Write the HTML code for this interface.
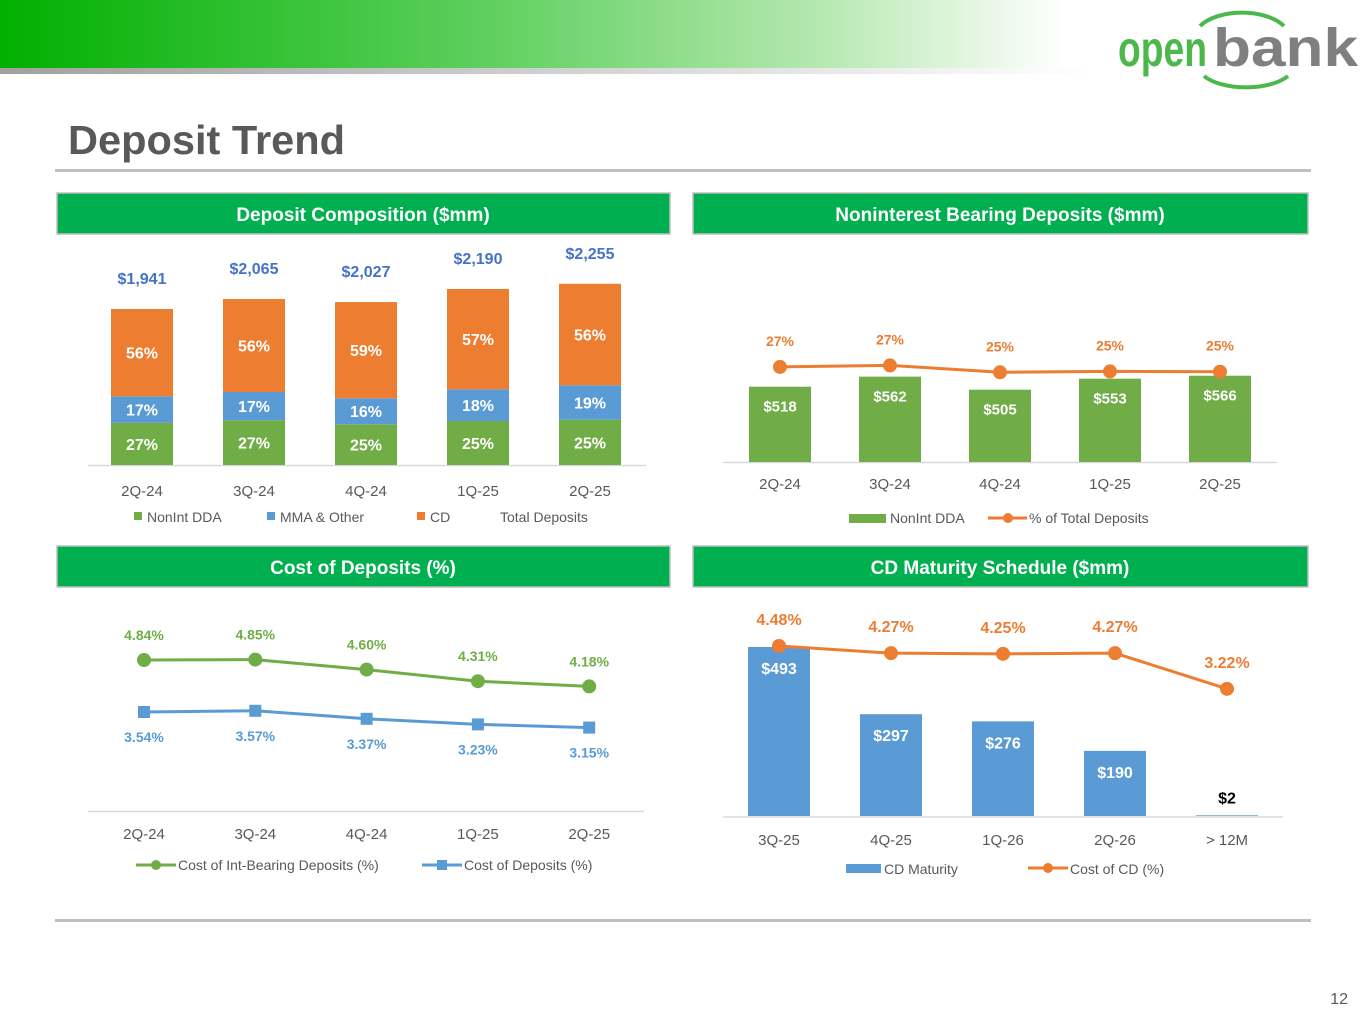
<!DOCTYPE html>
<html><head><meta charset="utf-8"><style>
html,body{margin:0;padding:0;background:#fff;}
body{width:1365px;height:1024px;overflow:hidden;position:relative;font-family:"Liberation Sans",sans-serif;}
svg text{font-family:"Liberation Sans",sans-serif;}
</style></head><body>
<svg id="page" width="1365" height="1024" viewBox="0 0 1365 1024" xmlns="http://www.w3.org/2000/svg">
<defs>
<linearGradient id="hg" x1="0" x2="1" y1="0" y2="0">
<stop offset="0" stop-color="#00b000"/><stop offset="0.35" stop-color="#5ccf5c"/><stop offset="0.6" stop-color="#b5e8b0"/><stop offset="0.78" stop-color="#ffffff"/><stop offset="1" stop-color="#ffffff"/>
</linearGradient>
<linearGradient id="gg" x1="0" x2="1" y1="0" y2="0">
<stop offset="0" stop-color="#a0a0a0"/><stop offset="0.8" stop-color="#ffffff"/></linearGradient>
</defs>
<rect x="0" y="0" width="1365" height="68" fill="url(#hg)"/>
<rect x="0" y="68" width="1365" height="6" fill="url(#gg)"/>
<g>
<path d="M1200 26 A48 26 0 0 1 1284 26" fill="none" stroke="#4cb84c" stroke-width="4"/>
<path d="M1204 76 A48 22 0 0 0 1288 76" fill="none" stroke="#4cb84c" stroke-width="4"/>
<text x="1118" y="66" font-size="50" font-weight="bold" fill="#4cb84c" textLength="89" lengthAdjust="spacingAndGlyphs">open</text>
<text x="1213" y="66" font-size="54" font-weight="bold" fill="#7f7f7f" textLength="145" lengthAdjust="spacingAndGlyphs">bank</text>
</g>
<text x="68" y="154" font-size="41" font-weight="bold" fill="#595959" textLength="277" lengthAdjust="spacingAndGlyphs">Deposit Trend</text>
<rect x="55" y="169" width="1256" height="3" fill="#bfbfbf"/>
<rect x="55" y="919" width="1256" height="3" fill="#bfbfbf"/>
<text x="1348" y="1004" font-size="16" fill="#595959" text-anchor="end">12</text>

<g><rect x="57" y="193" width="613" height="41" fill="#00b050" stroke="#bfbfbf" stroke-width="1.5"/><text x="363" y="221" font-size="19" font-weight="bold" fill="#fff" text-anchor="middle">Deposit Composition ($mm)</text></g>
<g><rect x="693" y="193" width="615" height="41" fill="#00b050" stroke="#bfbfbf" stroke-width="1.5"/><text x="1000" y="221" font-size="19" font-weight="bold" fill="#fff" text-anchor="middle">Noninterest Bearing Deposits ($mm)</text></g>
<g><rect x="57" y="546" width="613" height="41" fill="#00b050" stroke="#bfbfbf" stroke-width="1.5"/><text x="363" y="574" font-size="19" font-weight="bold" fill="#fff" text-anchor="middle">Cost of Deposits (%)</text></g>
<g><rect x="693" y="546" width="615" height="41" fill="#00b050" stroke="#bfbfbf" stroke-width="1.5"/><text x="1000" y="574" font-size="19" font-weight="bold" fill="#fff" text-anchor="middle">CD Maturity Schedule ($mm)</text></g>

<g id="c1"></g>
<g id="c2"></g>
<g id="c3"></g>
<g id="c4"></g>
</svg>
<script>
const quarters1 = ["2Q-24","3Q-24","4Q-24","1Q-25","2Q-25"];
const totalDeposits = [1941,2065,2027,2190,2255];
const nonintPct = [27,27,25,25,25];
const mmaPct = [17,17,16,18,19];
const cdPct = [56,56,59,57,56];
const nonintDDA = [518,562,505,553,566];
const nonintShare = [26.7,27.2,24.9,25.2,25.1];
const nonintShareLabels = ["27%","27%","25%","25%","25%"];
const costIntBearing = [4.84,4.85,4.60,4.31,4.18];
const costDeposits = [3.54,3.57,3.37,3.23,3.15];
const cdBuckets = ["3Q-25","4Q-25","1Q-26","2Q-26","> 12M"];
const cdMaturity = [493,297,276,190,2];
const cdCost = [4.48,4.27,4.25,4.27,3.22];

const NS="http://www.w3.org/2000/svg";
function mk(parent,tag,attrs,txt){const e=document.createElementNS(NS,tag);for(const k in attrs)e.setAttribute(k,attrs[k]);if(txt!==undefined)e.textContent=txt;parent.appendChild(e);return e;}
const GREEN="#70ad47",BLUE="#5b9bd5",ORANGE="#ed7d31",AX="#595959";

// Chart 1
(function(){
const g=document.getElementById('c1');
const x=i=>142+i*112, base=465, k=156/1941, y=v=>base-v*k;
mk(g,'line',{x1:88,x2:646,y1:base+0.5,y2:base+0.5,stroke:'#d9d9d9','stroke-width':1.5});
quarters1.forEach((q,i)=>{
  const tot=totalDeposits[i]; let cum=0;
  const segs=[[nonintPct[i],GREEN,'bar-nonint-'+q],[mmaPct[i],BLUE,'bar-mma-'+q],[cdPct[i],ORANGE,'bar-cd-'+q]];
  segs.forEach(s=>{
    const h=tot*s[0]/100*k, yt=y(tot*(cum+s[0])/100);
    const r=mk(g,'rect',{x:x(i)-31,y:yt,width:62,height:h,fill:s[1]});
    
    
    const t=mk(g,'text',{x:x(i),y:yt+h/2+6,'font-size':16,'font-weight':'bold',fill:'#fff','text-anchor':'middle'},s[0]+'%');
    
    
    cum+=s[0];
  });
  const tl=mk(g,'text',{x:x(i),y:y(tot)-25,'font-size':16,'font-weight':'bold',fill:'#4472c4','text-anchor':'middle'},'$'+tot.toLocaleString('en-US'));
  
  
  const xl=mk(g,'text',{x:x(i),y:496,'font-size':15,fill:AX,'text-anchor':'middle'},q);
  
  
});
const leg=[[134,GREEN,'NonInt DDA'],[267,BLUE,'MMA & Other'],[417,ORANGE,'CD'],[490,null,'Total Deposits']];
leg.forEach(l=>{
  if(l[1]) mk(g,'rect',{x:l[0],y:512,width:8,height:8,fill:l[1]});
  const t=mk(g,'text',{x:l[0]+(l[1]?13:10),y:522,'font-size':14,fill:AX},l[2]);
  
  
});
})();

// Chart 2
(function(){
const g=document.getElementById('c2');
const x=i=>780+i*110, base=462, y=v=>base-(v-190)*0.2295, yl=v=>366+(27-v)*3;
mk(g,'line',{x1:723,x2:1277,y1:base+0.5,y2:base+0.5,stroke:'#d9d9d9','stroke-width':1.5});
quarters1.forEach((q,i)=>{
  const r=mk(g,'rect',{x:x(i)-31,y:y(nonintDDA[i]),width:62,height:base-y(nonintDDA[i]),fill:GREEN});
  
  
  const t=mk(g,'text',{x:x(i),y:y(nonintDDA[i])+25,'font-size':15,'font-weight':'bold',fill:'#fff','text-anchor':'middle'},'$'+nonintDDA[i]);
  
  
  const xl=mk(g,'text',{x:x(i),y:489,'font-size':15,fill:AX,'text-anchor':'middle'},q);
  
  
});
const pts=nonintShare.map((v,i)=>x(i)+','+yl(v)).join(' ');
const pl=mk(g,'polyline',{points:pts,fill:'none',stroke:ORANGE,'stroke-width':3});


nonintShare.forEach((v,i)=>{
  const c=mk(g,'circle',{cx:x(i),cy:yl(v),r:7,fill:ORANGE});
  
  
  const t=mk(g,'text',{x:x(i),y:yl(v)-21,'font-size':14,'font-weight':'bold',fill:ORANGE,'text-anchor':'middle'},nonintShareLabels[i]);
  
  
});
mk(g,'rect',{x:849,y:514,width:37,height:9,fill:GREEN});
const l1=mk(g,'text',{x:890,y:523,'font-size':14,fill:AX},'NonInt DDA');


mk(g,'line',{x1:988,x2:1027,y1:518,y2:518,stroke:ORANGE,'stroke-width':3});
mk(g,'circle',{cx:1008,cy:518,r:5,fill:ORANGE});
const l2=mk(g,'text',{x:1029,y:523,'font-size':14,fill:AX},'% of Total Deposits');


})();

// Chart 3
(function(){
const g=document.getElementById('c3');
const x=i=>144+i*111.3, y=v=>660+(4.84-v)*40;
mk(g,'line',{x1:88,x2:644,y1:811.5,y2:811.5,stroke:'#d9d9d9','stroke-width':1.5});
quarters1.forEach((q,i)=>{
  const xl=mk(g,'text',{x:x(i),y:839,'font-size':15,fill:AX,'text-anchor':'middle'},q);
  
  
});
const a=mk(g,'polyline',{points:costIntBearing.map((v,i)=>x(i)+','+y(v)).join(' '),fill:'none',stroke:GREEN,'stroke-width':3});


const b=mk(g,'polyline',{points:costDeposits.map((v,i)=>x(i)+','+y(v)).join(' '),fill:'none',stroke:BLUE,'stroke-width':3});


costIntBearing.forEach((v,i)=>{
  const c=mk(g,'circle',{cx:x(i),cy:y(v),r:7,fill:GREEN});
  
  
  const t=mk(g,'text',{x:x(i),y:y(v)-20,'font-size':14,'font-weight':'bold',fill:GREEN,'text-anchor':'middle'},v.toFixed(2)+'%');
  
  
});
costDeposits.forEach((v,i)=>{
  const c=mk(g,'rect',{x:x(i)-6,y:y(v)-6,width:12,height:12,fill:BLUE});
  
  
  const t=mk(g,'text',{x:x(i),y:y(v)+30,'font-size':14,'font-weight':'bold',fill:BLUE,'text-anchor':'middle'},v.toFixed(2)+'%');
  
  
});
mk(g,'line',{x1:136,x2:176,y1:865,y2:865,stroke:GREEN,'stroke-width':3});
mk(g,'circle',{cx:156,cy:865,r:5,fill:GREEN});
const l1=mk(g,'text',{x:178,y:870,'font-size':14,fill:AX},'Cost of Int-Bearing Deposits (%)');


mk(g,'line',{x1:422,x2:462,y1:865,y2:865,stroke:BLUE,'stroke-width':3});
mk(g,'rect',{x:437,y:860,width:10,height:10,fill:BLUE});
const l2=mk(g,'text',{x:464,y:870,'font-size':14,fill:AX},'Cost of Deposits (%)');


})();

// Chart 4
(function(){
const g=document.getElementById('c4');
const x=i=>779+i*112, base=816, y=v=>base-v*0.3428, yl=v=>646+(4.48-v)*34;
mk(g,'line',{x1:723,x2:1283,y1:base+1,y2:base+1,stroke:'#d9d9d9','stroke-width':1.5});
cdBuckets.forEach((q,i)=>{
  const v=cdMaturity[i];
  const r=mk(g,'rect',{x:x(i)-31,y:y(v),width:62,height:base-y(v),fill:BLUE});
  
  
  const small=v<30;
  const t=mk(g,'text',{x:x(i),y:small?y(v)-12:y(v)+27,'font-size':16,'font-weight':'bold',fill:small?'#000':'#fff','text-anchor':'middle'},'$'+v);
  
  
  const xl=mk(g,'text',{x:x(i),y:845,'font-size':15,fill:AX,'text-anchor':'middle'},q);
  
  
});
const pl=mk(g,'polyline',{points:cdCost.map((v,i)=>x(i)+','+yl(v)).join(' '),fill:'none',stroke:ORANGE,'stroke-width':3});


cdCost.forEach((v,i)=>{
  const c=mk(g,'circle',{cx:x(i),cy:yl(v),r:7,fill:ORANGE});
  
  
  const t=mk(g,'text',{x:x(i),y:yl(v)-21,'font-size':16,'font-weight':'bold',fill:ORANGE,'text-anchor':'middle'},v.toFixed(2)+'%');
  
  
});
mk(g,'rect',{x:846,y:864,width:35,height:9,fill:BLUE});
const l1=mk(g,'text',{x:884,y:874,'font-size':14,fill:AX},'CD Maturity');


mk(g,'line',{x1:1028,x2:1068,y1:868,y2:868,stroke:ORANGE,'stroke-width':3});
mk(g,'circle',{cx:1048,cy:868,r:5,fill:ORANGE});
const l2=mk(g,'text',{x:1070,y:874,'font-size':14,fill:AX},'Cost of CD (%)');


})();
</script>
</body></html>
